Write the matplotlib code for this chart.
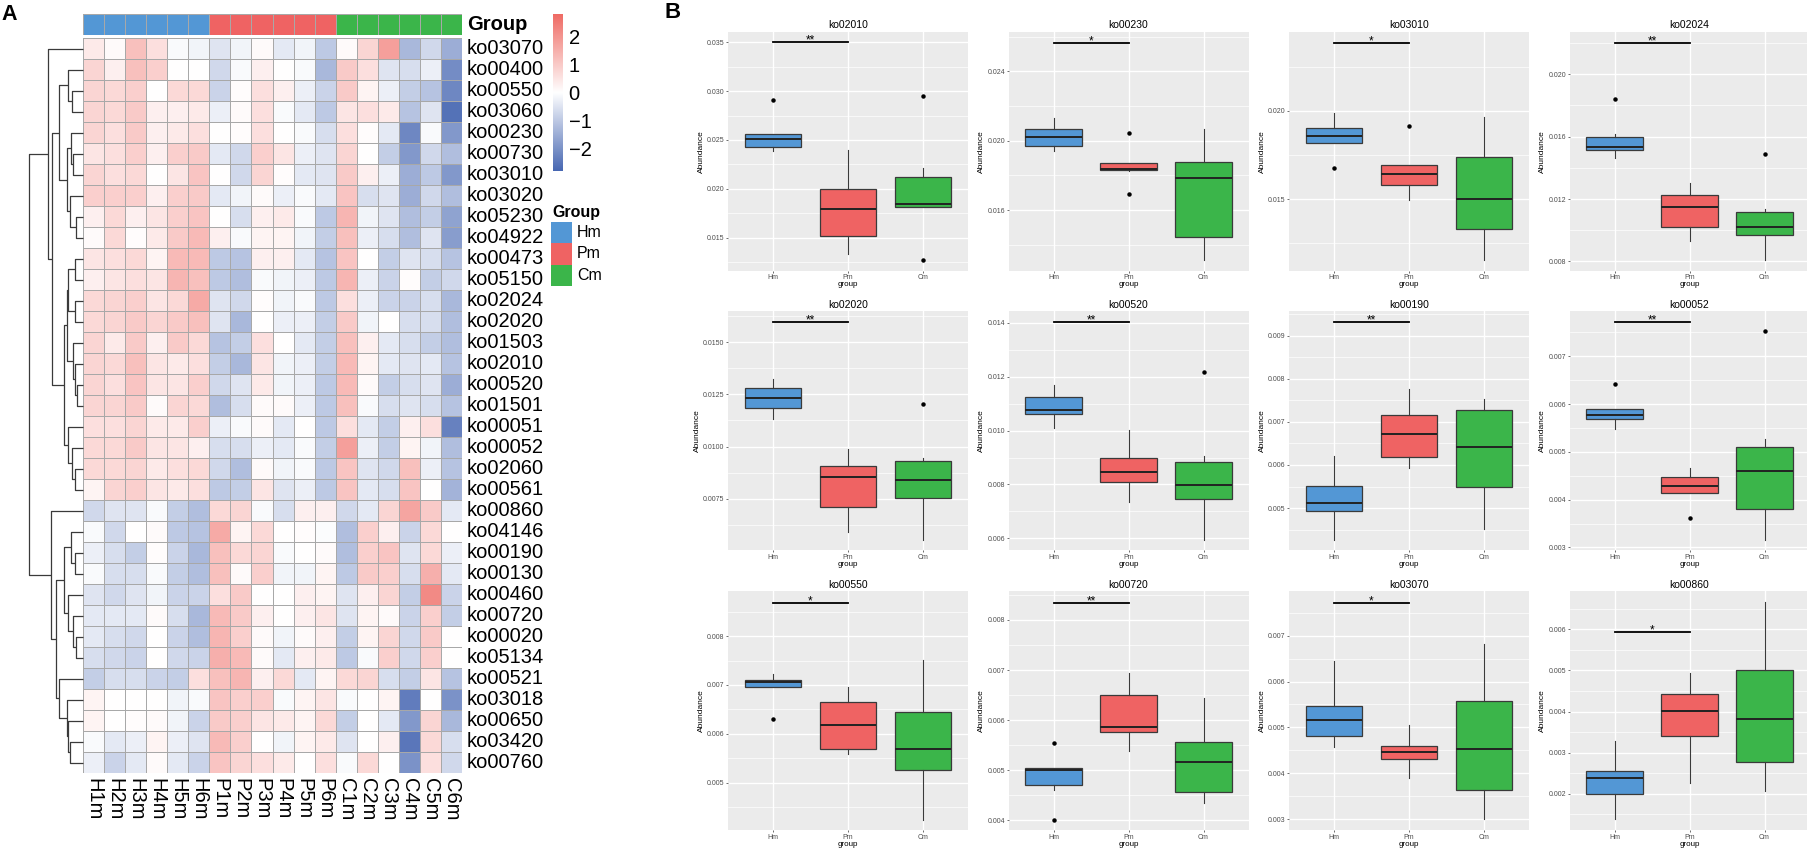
import matplotlib
matplotlib.use('Agg')
import matplotlib.pyplot as plt
import numpy as np
from matplotlib.colors import LinearSegmentedColormap, ListedColormap
from matplotlib.patches import Rectangle

plt.rcParams['font.family'] = ['Liberation Sans', 'DejaVu Sans']

# ---------------- heatmap data (row z-scores) ----------------
heat_rows = ['ko03070', 'ko00400', 'ko00550', 'ko03060', 'ko00230', 'ko00730', 'ko03010',
             'ko03020', 'ko05230', 'ko04922', 'ko00473', 'ko05150', 'ko02024', 'ko02020',
             'ko01503', 'ko02010', 'ko00520', 'ko01501', 'ko00051', 'ko00052', 'ko02060',
             'ko00561', 'ko00860', 'ko04146', 'ko00190', 'ko00130', 'ko00460', 'ko00720',
             'ko00020', 'ko05134', 'ko00521', 'ko03018', 'ko00650', 'ko03420', 'ko00760']
heat_cols = ['H1m', 'H2m', 'H3m', 'H4m', 'H5m', 'H6m', 'P1m', 'P2m', 'P3m',
             'P4m', 'P5m', 'P6m', 'C1m', 'C2m', 'C3m', 'C4m', 'C5m', 'C6m']
col_group = [0] * 6 + [1] * 6 + [2] * 6
group_names = ['Hm', 'Pm', 'Cm']
group_colors = ['#5397D5', '#EF6363', '#3BB54A']

heat_values = [
    [0.4, 0.1, 1.2, 0.6, -0.1, -0.2, -0.5, -0.2, 0.1, -0.4, -0.2, -1.0, 0.1, 0.8, 1.8, -1.3, -0.7, -1.5],
    [0.8, 0.3, 1.2, 0.9, 0.0, 0.0, -0.7, -0.1, 0.3, 0.0, -0.1, -1.3, 1.0, 0.6, -0.5, -0.6, -0.3, -2.1],
    [0.8, 0.7, 0.9, 0.0, 0.7, 0.7, -0.8, 0.05, 0.6, 0.3, -0.3, -0.8, 1.0, 0.2, -0.3, -0.9, -1.1, -2.2],
    [0.8, 0.7, 1.0, 0.3, 0.3, 0.4, -0.3, 0.1, 0.6, -0.1, -0.4, -1.0, 0.5, 0.6, 0.4, -1.1, -0.5, -2.6],
    [0.8, 0.6, 1.0, 0.3, 0.4, 0.6, 0.0, 0.05, 0.6, 0.0, -0.1, -0.6, 0.6, 0.05, -0.4, -2.2, -0.1, -1.9],
    [0.5, 0.6, 0.9, 0.3, 0.9, 1.0, -0.4, -0.7, 0.9, 0.5, -0.3, -0.5, 0.8, 0.0, -0.9, -1.9, -0.7, -1.2],
    [0.8, 0.6, 0.7, 0.0, 0.5, 1.1, 0.0, -0.7, 0.8, 0.05, -0.4, -0.5, 1.0, 0.3, -0.3, -1.5, -1.0, -1.9],
    [0.9, 0.9, 0.9, 0.3, 0.9, 1.0, -0.4, -0.2, 0.1, -0.3, -0.1, -0.4, 1.1, -0.6, -0.5, -1.5, -0.7, -1.2],
    [0.3, 0.7, 0.3, 0.5, 0.9, 1.1, 0.0, -0.6, 0.3, 0.4, -0.1, -1.0, 1.4, -0.2, -0.5, -1.2, -0.9, -1.7],
    [0.1, 0.7, 0.05, 0.4, 1.0, 1.3, 0.3, -0.1, 0.2, 0.2, -0.2, -0.9, 1.2, -0.3, -0.6, -1.2, -0.5, -1.8],
    [0.5, 0.6, 0.7, 0.2, 1.3, 1.3, -1.0, -1.1, 0.3, 0.3, -0.4, -1.1, 1.1, 0.0, -0.9, -0.5, -0.6, -1.1],
    [0.3, 0.5, 0.6, 0.5, 1.4, 1.2, -1.0, -1.2, -0.1, -0.2, -0.3, -1.0, 1.4, -0.3, -0.8, 0.05, -0.9, -0.7],
    [0.7, 0.8, 0.9, 0.5, 0.7, 1.6, -0.5, -0.7, 0.05, -0.2, -0.1, -1.0, 0.6, -0.3, -0.8, -0.8, -0.6, -1.3],
    [0.7, 0.8, 1.0, 0.8, 1.0, 1.2, -0.5, -1.3, 0.0, -0.3, -0.3, -0.9, 1.0, -0.2, 0.0, -0.6, -0.6, -1.2],
    [0.8, 0.4, 1.0, 0.3, 1.0, 0.7, -1.1, -0.9, 0.6, 0.0, -0.4, -0.9, 1.2, 0.3, -0.4, -0.6, -0.9, -1.2],
    [0.8, 0.7, 1.2, 0.5, 0.4, 0.6, -0.9, -1.3, 0.5, -0.2, -0.3, -0.9, 1.3, 0.2, -0.4, -0.5, -0.4, -1.1],
    [0.8, 0.6, 1.1, 0.5, 0.5, 0.9, -0.7, -0.5, 0.4, -0.2, -0.3, -1.0, 1.3, 0.1, -0.9, -0.6, -0.5, -1.5],
    [0.8, 0.8, 1.0, 0.1, 0.8, 0.7, -1.2, -0.6, 0.1, 0.1, -0.3, -1.0, 1.2, -0.1, -0.6, -0.5, -0.6, -1.1],
    [0.6, 0.6, 0.8, 0.4, 0.4, 0.9, -0.3, -0.1, 0.1, -0.4, 0.0, -1.0, 0.6, -0.4, -0.9, 0.3, 0.6, -2.3],
    [0.7, 0.7, 1.0, 0.5, 0.5, 0.3, -0.6, -0.6, -0.3, -0.4, -0.1, -0.9, 1.8, -0.3, -0.9, 0.2, -0.2, -1.2],
    [0.7, 0.7, 0.8, 0.4, 0.6, 0.7, -0.7, -1.2, 0.1, -0.2, -0.1, -1.0, 1.1, -0.5, -0.7, 1.2, -0.3, -1.1],
    [0.2, 0.8, 0.9, 0.5, 0.4, 0.6, -1.0, -0.9, 0.5, -0.5, -0.3, -1.0, 1.1, -0.4, -0.6, 1.1, 0.0, -1.4],
    [-0.7, -0.5, -0.5, -0.1, -0.9, -1.2, 0.7, 0.8, -0.1, -0.6, 0.3, 0.3, -0.7, -0.4, 0.8, 1.7, 1.0, -0.4],
    [-0.1, -0.7, 0.0, 0.1, -1.0, -1.1, 1.6, 0.2, 0.7, 0.0, 0.05, -0.05, -1.2, 0.9, 0.3, -0.8, 0.7, 0.0],
    [-0.3, -0.6, -0.9, 0.05, -0.8, -1.3, 1.2, 0.7, 0.8, -0.1, 0.0, 0.1, -1.2, 0.9, 1.1, -0.5, 0.7, -0.3],
    [-0.1, -0.6, -0.6, -0.1, -0.9, -1.2, 1.2, 0.1, 0.9, -0.2, -0.2, 0.2, -1.0, 1.0, 0.9, -0.6, 1.5, -0.4],
    [-0.5, -0.7, -0.5, -0.2, -0.8, -0.8, 0.6, 1.0, 0.0, 0.0, 0.3, 0.2, -0.5, 0.3, 0.8, -0.9, 2.2, -0.8],
    [-0.4, -0.4, -0.4, 0.1, -0.6, -1.3, 1.3, 1.0, 0.3, 0.0, 0.3, 0.5, -0.5, 0.2, 0.1, -0.8, 0.9, -0.9],
    [-0.4, -0.6, -0.7, 0.0, -0.8, -1.2, 1.4, 0.9, 0.1, -0.2, 0.1, 0.3, -0.9, 0.2, 0.8, -0.7, 1.0, 0.0],
    [-0.6, -0.7, -0.8, 0.0, -0.7, -0.8, 1.5, 1.3, 0.1, -0.4, 0.3, 0.4, -1.0, -0.1, 0.9, -0.7, 0.9, 0.0],
    [-0.9, -0.6, -0.6, -0.8, -0.9, 0.6, 1.2, 1.4, 0.3, 0.7, -0.4, 0.2, 0.7, 0.8, -0.6, -0.9, 0.5, -1.1],
    [0.2, 0.0, 0.0, 0.0, -0.2, -0.1, 1.1, 0.9, 0.9, -0.1, 0.2, 0.5, -0.1, 0.0, 0.2, -2.4, 0.0, -2.0],
    [0.2, 0.0, 0.05, 0.1, -0.2, -0.8, 1.0, 0.9, 0.5, 0.4, 0.2, 0.7, -0.9, 0.0, -0.4, -1.9, 0.8, -1.3],
    [-0.1, -0.4, -0.3, 0.2, -0.3, -0.5, 1.3, 0.9, 0.0, -0.2, 0.2, 0.4, -0.5, 0.0, 0.3, -2.5, 0.7, -0.6],
    [-0.3, -0.8, -0.4, 0.1, -0.4, -0.8, 1.1, 0.8, 0.6, 0.4, 0.0, 0.6, -0.1, 0.7, 0.0, -2.0, 0.6, -0.7],
]

# row dendrogram: (height, left, right), leaves are row indices
row_tree = (10.0,
            (6.5, 0,
             (5.7,
              (4.4, (2.8, 1, (2.0, 2, 3)),
                    (3.0, (2.3, 4, (1.8, 5, 6)), (2.5, 7, (1.35, 8, 9)))),
              (3.5, (3.0, (2.7, (1.5, 10, 11), (1.5, 12, 13)),
                          (1.8, 14, (1.5, 15, (1.1, 16, 17)))),
                    (2.7, 18, (2.1, 19, (1.5, 20, 21)))))),
            (6.0, 22,
             (5.0,
              (3.5, (2.3, 23, (1.5, 24, 25)), (2.7, 26, (1.8, 27, (1.35, 28, 29)))),
              (4.4, 30, (2.9, 31, (2.7, 32, (2.4, 33, 34)))))))

# ---------------- boxplot data (Hm, Pm, Cm) ----------------
box_titles = ['ko02010', 'ko00230', 'ko03010', 'ko02024',
              'ko02020', 'ko00520', 'ko00190', 'ko00052',
              'ko00550', 'ko00720', 'ko03070', 'ko00860']
box_ticks = [[0.015, 0.020, 0.025, 0.030, 0.035], [0.016, 0.020, 0.024], [0.015, 0.020],
             [0.008, 0.012, 0.016, 0.020],
             [0.0075, 0.0100, 0.0125, 0.0150], [0.006, 0.008, 0.010, 0.012, 0.014],
             [0.005, 0.006, 0.007, 0.008, 0.009], [0.003, 0.004, 0.005, 0.006, 0.007],
             [0.005, 0.006, 0.007, 0.008], [0.004, 0.005, 0.006, 0.007, 0.008],
             [0.003, 0.004, 0.005, 0.006, 0.007], [0.002, 0.003, 0.004, 0.005, 0.006]]
box_ylim = [(0.0116, 0.0361), (0.01251, 0.02629), (0.01094, 0.02448), (0.00741, 0.02271),
            (0.00502, 0.01648), (0.00555, 0.01443), (0.004017, 0.009566), (0.002938, 0.007937),
            (0.004026, 0.008922), (0.003806, 0.008575), (0.00276, 0.007973), (0.00112, 0.006928)]
box_q1 = [[0.02426, 0.0152, 0.01811], [0.01968, 0.01834, 0.01448], [0.01816, 0.01577, 0.01333],
          [0.01513, 0.01022, 0.00969], [0.01185, 0.00709, 0.00755], [0.01063, 0.00808, 0.00745],
          [0.004927, 0.006183, 0.005497], [0.00568, 0.004146, 0.003806], [0.006966, 0.005685, 0.005247],
          [0.0047, 0.00577, 0.004568], [0.004806, 0.004303, 0.003628], [0.002008, 0.003408, 0.002776]]
box_med = [[0.02507, 0.01794, 0.01841], [0.02019, 0.01838, 0.01787], [0.01858, 0.01639, 0.01502],
           [0.01532, 0.01149, 0.01018], [0.01231, 0.00855, 0.00838], [0.01076, 0.00848, 0.00798],
           [0.005112, 0.00673, 0.006407], [0.005764, 0.004292, 0.00459], [0.007061, 0.006177, 0.005685],
           [0.005002, 0.005869, 0.005172], [0.005158, 0.004454, 0.004526], [0.002376, 0.004016, 0.003824]]
box_q3 = [[0.02561, 0.01997, 0.02122], [0.02067, 0.01872, 0.01876], [0.01904, 0.01695, 0.01736],
          [0.01594, 0.01223, 0.01117], [0.01283, 0.00909, 0.00933], [0.01126, 0.00899, 0.00885],
          [0.005513, 0.007154, 0.00727], [0.0059, 0.004465, 0.005111], [0.007108, 0.006643, 0.00644],
          [0.005041, 0.006493, 0.005566], [0.005474, 0.004605, 0.005582], [0.00256, 0.004416, 0.005]]
box_wlo = [[0.02389, 0.01331, 0.01811], [0.01943, 0.01825, 0.01314], [0.01816, 0.01493, 0.01155],
           [0.0146, 0.00933, 0.00811], [0.01134, 0.00592, 0.00553], [0.01009, 0.00736, 0.00594],
           [0.004264, 0.005929, 0.004503], [0.005486, 0.004146, 0.00316], [0.006966, 0.005577, 0.004242],
           [0.004614, 0.005389, 0.004351], [0.004583, 0.003894, 0.003004], [0.001384, 0.002264, 0.002064]]
box_whi = [[0.02561, 0.02399, 0.02213], [0.02133, 0.01872, 0.02067], [0.01989, 0.01695, 0.01966],
           [0.01615, 0.01304, 0.01139], [0.01326, 0.0099, 0.00943], [0.01168, 0.01002, 0.00906],
           [0.006198, 0.007755, 0.007524], [0.0059, 0.004667, 0.005264], [0.007229, 0.00696, 0.007519],
           [0.005041, 0.006946, 0.006433], [0.006443, 0.005057, 0.00681], [0.00328, 0.004944, 0.006664]]
box_fliers = [[[0.02912], [], [0.02949, 0.0127]], [[], [0.02044, 0.01691], []],
              [[0.01678], [0.01914], []], [[0.01837], [], [0.01488]],
              [[], [], [0.01204]], [[], [], [0.01217]],
              [[], [], []], [[0.006417], [0.003625], [0.007535]],
              [[0.006305], [], []], [[0.005553, 0.00401], [], []],
              [[], [], []], [[], [], []]]
sig_y = [0.035, 0.02566, 0.02386, 0.02201, 0.01596, 0.01402,
         0.009312, 0.007708, 0.008686, 0.008345, 0.007722, 0.005944]
sig_txt = ['**', '*', '*', '**', '**', '**', '**', '**', '*', '**', '*', '*']

W, H = 1807, 849
fig = plt.figure(figsize=(W / 100, H / 100), dpi=100)


def px_axes(x, y, w, h):
    return fig.add_axes([x / W, 1 - (y + h) / H, w / W, h / H])


# ---------------- panel A ----------------
cmap = LinearSegmentedColormap.from_list('bwr2', ['#4767B2', '#FFFFFF', '#EF6B64'])
vlim = 2.8
nr, nc = len(heat_rows), len(heat_cols)
hm_x, hm_y, hm_w, hm_h = 83, 38, 379, 735

ax = px_axes(hm_x, hm_y, hm_w, hm_h)
ax.pcolormesh(np.array(heat_values), cmap=cmap, vmin=-vlim, vmax=vlim,
              edgecolors='#A8A8A8', linewidth=0.7)
ax.set_xlim(0, nc)
ax.set_ylim(nr, 0)
ax.axis('off')
for i, name in enumerate(heat_rows):
    ax.text(1 + 5 / hm_w, i + 0.5, name, transform=ax.get_yaxis_transform(),
            ha='left', va='center', fontsize=14.5)
for j, name in enumerate(heat_cols):
    ax.text(j + 0.5, -5 / hm_h, name, transform=ax.get_xaxis_transform(),
            ha='center', va='top', rotation=-90, fontsize=14.5)

ax_g = px_axes(hm_x, 14, hm_w, 21)
ax_g.pcolormesh(np.array([col_group]), cmap=ListedColormap(group_colors), vmin=-0.5, vmax=2.5,
                edgecolors='#A8A8A8', linewidth=0.7)
ax_g.set_xlim(0, nc)
ax_g.axis('off')
ax_g.text(1 + 5 / hm_w, 0.5, 'Group', transform=ax_g.transAxes, ha='left', va='center',
          fontsize=14.5, fontweight='bold')

# dendrogram (root at x=29 px, leaves at the heatmap edge)
ax_d = px_axes(29, hm_y, hm_x - 29, hm_h)
ax_d.set_xlim(10, 0)
ax_d.set_ylim(nr, 0)
ax_d.axis('off')


def draw_node(node):
    if isinstance(node, int):
        return node + 0.5, 0.0
    h, left, right = node
    yl, hl = draw_node(left)
    yr, hr = draw_node(right)
    ax_d.plot([hl, h, h, hr], [yl, yl, yr, yr], color='#3A3A3A', lw=0.9,
              solid_capstyle='butt', clip_on=False)
    return (yl + yr) / 2, h


draw_node(row_tree)

# colour bar
ax_cb = px_axes(553, 14, 10, 157)
ax_cb.imshow(np.linspace(vlim, -vlim, 256)[:, None], aspect='auto', cmap=cmap,
             vmin=-vlim, vmax=vlim, extent=[0, 1, -vlim, vlim])
ax_cb.set_xticks([])
ax_cb.yaxis.tick_right()
ax_cb.set_yticks([-2, -1, 0, 1, 2])
ax_cb.tick_params(axis='y', length=0, labelsize=14.5, pad=4)
for s in ax_cb.spines.values():
    s.set_visible(False)

# group legend
fig.text(552 / W, 1 - 212 / H, 'Group', fontsize=11.5, fontweight='bold', va='center')
for k, (gname, gcol) in enumerate(zip(group_names, group_colors)):
    y0 = 222 + 21.3 * k
    fig.add_artist(Rectangle((551 / W, 1 - (y0 + 21.3) / H), 21 / W, 21.3 / H,
                             transform=fig.transFigure, facecolor=gcol, edgecolor='none'))
    fig.text(577 / W, 1 - (y0 + 10.6) / H, gname, fontsize=11.5, va='center')

fig.text(1 / W, 1 - 14 / H, 'A', fontsize=15.5, fontweight='bold', va='center')
fig.text(664 / W, 1 - 13 / H, 'B', fontsize=16, fontweight='bold', va='center')

# ---------------- panel B ----------------
for k, title in enumerate(box_titles):
    r, c = divmod(k, 4)
    bx = px_axes(728 + 280.5 * c, 31.7 + 279.7 * r, 240, 239)
    bx.set_facecolor('#EBEBEB')
    stats = []
    for g in range(3):
        stats.append(dict(q1=box_q1[k][g], med=box_med[k][g], q3=box_q3[k][g],
                          whislo=box_wlo[k][g], whishi=box_whi[k][g],
                          fliers=box_fliers[k][g]))
    bp = bx.bxp(stats, positions=[1, 2, 3], widths=0.75, patch_artist=True, showcaps=False,
                boxprops=dict(edgecolor='#3A3A3A', linewidth=0.9),
                medianprops=dict(color='#222222', linewidth=1.4),
                whiskerprops=dict(color='#3A3A3A', linewidth=0.8),
                flierprops=dict(marker='o', markersize=2.2, markerfacecolor='black',
                                markeredgecolor='black'))
    for patch, col in zip(bp['boxes'], group_colors):
        patch.set_facecolor(col)
    for artist_list in bp.values():
        for a in artist_list:
            a.set_zorder(3)

    ticks = box_ticks[k]
    dec = max(len(('%.6f' % t).rstrip('0').split('.')[1]) for t in ticks)
    step = ticks[1] - ticks[0]
    minors = np.arange(ticks[0] - step / 2, ticks[-1] + step, step)
    lo, hi = box_ylim[k]
    bx.set_ylim(lo, hi)
    bx.set_xlim(0.4, 3.6)
    bx.set_yticks(ticks)
    bx.set_yticklabels(['%.*f' % (dec, t) for t in ticks])
    bx.set_yticks([m for m in minors if lo < m < hi], minor=True)
    bx.set_xticks([1, 2, 3])
    bx.set_xticklabels(group_names)
    bx.set_axisbelow(True)
    bx.grid(which='major', color='white', linewidth=1.0)
    bx.grid(which='minor', axis='y', color='white', linewidth=0.5)
    bx.tick_params(which='major', labelsize=5, labelcolor='#4D4D4D', color='#333333',
                   length=1.5, width=0.5, pad=1.0)
    bx.tick_params(which='minor', length=0)
    for s in bx.spines.values():
        s.set_visible(False)
    bx.set_title(title, fontsize=7.5, pad=2.5)
    bx.set_ylabel('Abundance', fontsize=6, labelpad=1.5)
    bx.set_xlabel('group', fontsize=5.8, labelpad=0)

    bx.plot([1, 2], [sig_y[k], sig_y[k]], color='black', lw=1.3, zorder=4)
    bx.annotate(sig_txt[k], (1.5, sig_y[k]), xytext=(0, -1), textcoords='offset points',
                ha='center', va='baseline', fontsize=8.5, zorder=4)

fig.savefig('out.png', dpi=100)
